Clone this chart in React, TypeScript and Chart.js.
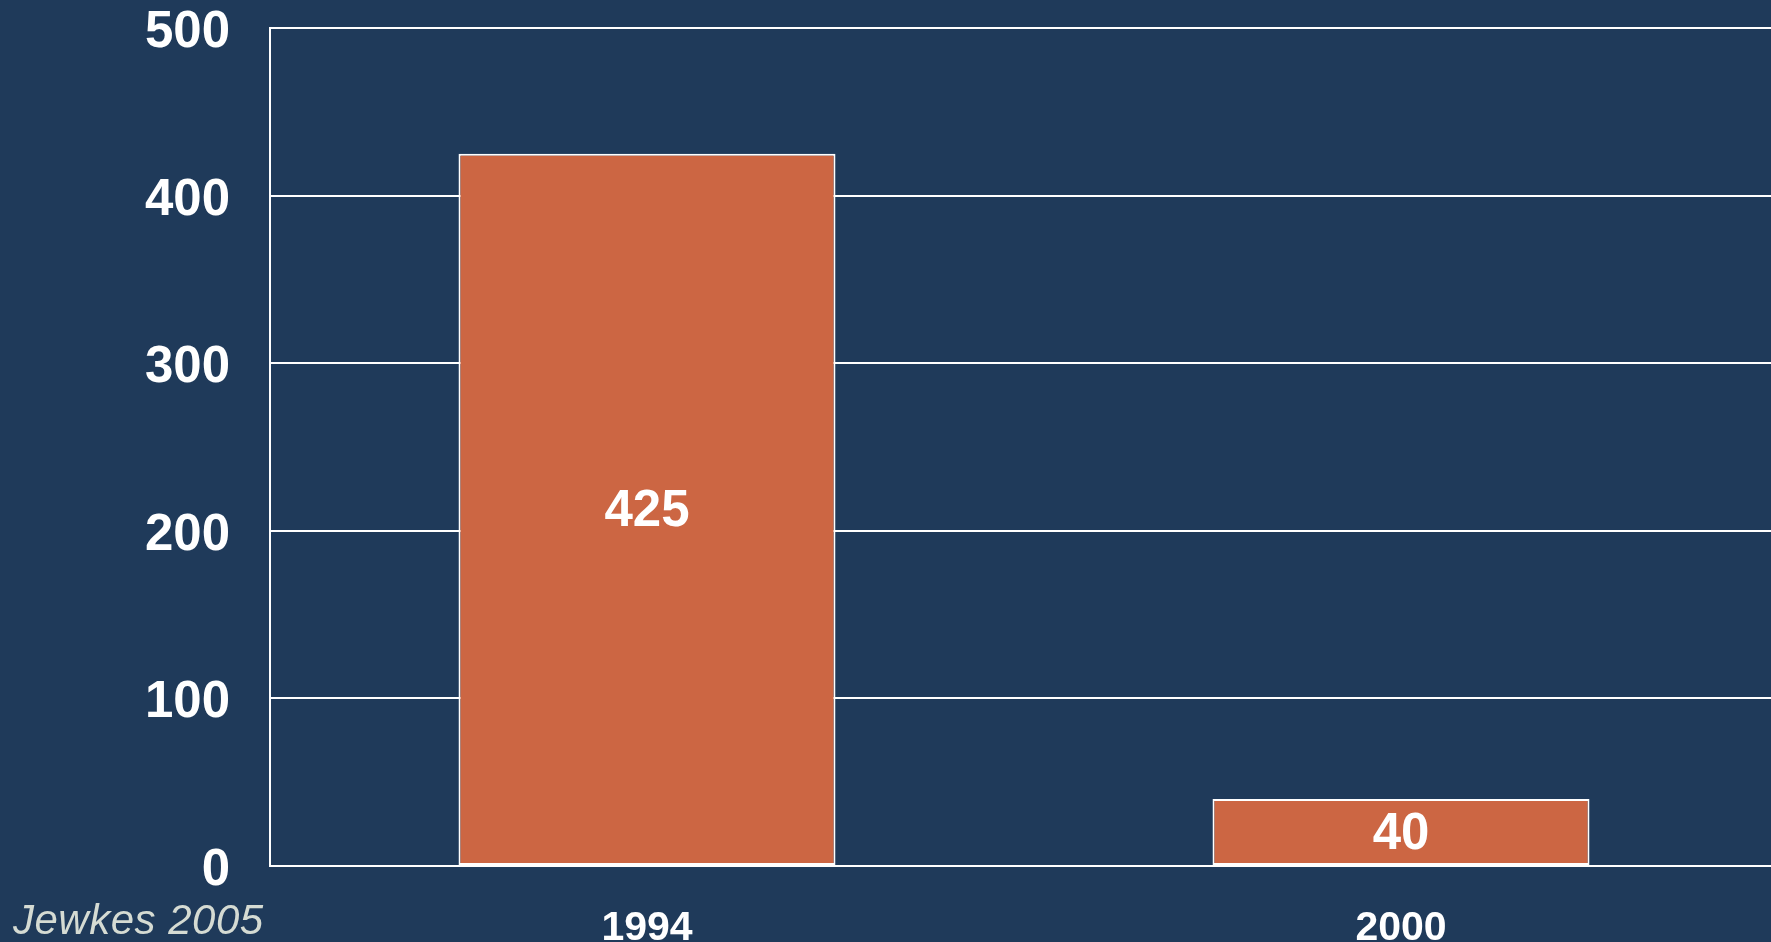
import React, { useEffect, useRef } from "react";
import { Chart, registerables } from "chart.js";

Chart.register(...registerables);

const categories = ["1994", "2000"];
const values = [425, 40];
const yTicks = [0, 100, 200, 300, 400, 500];
const sourceNote = "Jewkes 2005";

const BG = "#1F3A5A";
const BAR = "#CC6643";
const FONT = "'Liberation Sans', Arial, sans-serif";

const bgPlugin = {
  id: "bgFill",
  beforeDraw(chart: any) {
    const { ctx, width, height } = chart;
    ctx.save();
    ctx.fillStyle = BG;
    ctx.fillRect(0, 0, width, height);
    ctx.restore();
  },
};

const valueLabels = {
  id: "valueLabels",
  afterDatasetsDraw(chart: any) {
    const { ctx } = chart;
    const meta = chart.getDatasetMeta(0);
    ctx.save();
    ctx.fillStyle = "#FFFFFF";
    ctx.font = `bold 51px ${FONT}`;
    ctx.textAlign = "center";
    ctx.textBaseline = "middle";
    meta.data.forEach((bar: any, i: number) => {
      const v = chart.data.datasets[0].data[i];
      ctx.fillText(String(v), bar.x, (bar.y + bar.base) / 2 + 3);
    });
    ctx.restore();
  },
};

export default function App() {
  const ref = useRef<HTMLCanvasElement>(null);

  useEffect(() => {
    document.body.style.margin = "0";
    document.body.style.overflow = "hidden";
    document.body.style.background = BG;
    const canvas = ref.current!;
    const chart = new Chart(canvas, {
      type: "bar",
      data: {
        labels: categories,
        datasets: [
          {
            data: values,
            backgroundColor: BAR,
            borderColor: "#FFFFFF",
            borderWidth: 2,
            borderSkipped: false,
            barPercentage: 0.5,
            categoryPercentage: 1.0,
          },
        ],
      },
      options: {
        responsive: false,
        animation: false,
        devicePixelRatio: 1,
        layout: { padding: { top: 28, left: 0, right: 0, bottom: 0 } },
        plugins: {
          legend: { display: false },
          tooltip: { enabled: false },
          title: { display: false },
        },
        scales: {
          x: {
            type: "category",
            grid: { display: false, drawTicks: false },
            border: { display: true, color: "#FFFFFF", width: 2 },
            ticks: {
              color: "#FFFFFF",
              font: { family: FONT, size: 41, weight: "bold" },
              padding: 38,
              maxRotation: 0,
            },
            afterFit(scale: any) {
              scale.height = 76;
              scale.paddingLeft = 0;
              scale.paddingRight = 0;
            },
          },
          y: {
            min: 0,
            max: 500,
            afterBuildTicks(scale: any) {
              scale.ticks = yTicks.map((v) => ({ value: v }));
            },
            grid: {
              color: "#FFFFFF",
              lineWidth: 2,
              drawTicks: false,
            },
            border: { display: true, color: "#FFFFFF", width: 2 },
            ticks: {
              color: "#FFFFFF",
              font: { family: FONT, size: 51, weight: "bold" },
              padding: 40,
              labelOffset: 5,
            },
            afterFit(scale: any) {
              scale.width = 270;
              scale.paddingTop = 0;
              scale.paddingBottom = 0;
            },
          },
        },
      },
      plugins: [bgPlugin, valueLabels],
    });
    return () => chart.destroy();
  }, []);

  return (
    <div style={{ position: "relative", width: 1771, height: 942, overflow: "hidden", background: BG }}>
      <canvas ref={ref} width={1778} height={942} style={{ display: "block", width: 1778, height: 942 }} />
      <div
        style={{
          position: "absolute",
          left: 13,
          top: 899,
          fontFamily: FONT,
          fontStyle: "italic",
          fontSize: 42,
          lineHeight: "41px",
          letterSpacing: "0.5px",
          color: "#D5DBD3",
          whiteSpace: "nowrap",
        }}
      >
        {sourceNote}
      </div>
    </div>
  );
}
